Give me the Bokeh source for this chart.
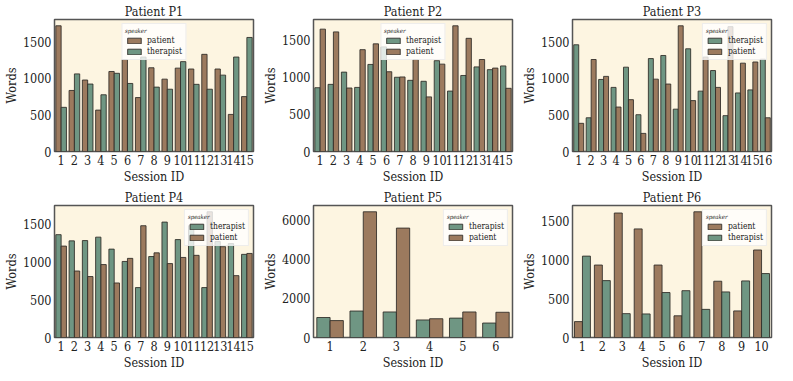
from bokeh.plotting import figure
from bokeh.models import FactorRange, Range1d, FixedTicker
from bokeh.transform import dodge
from bokeh.layouts import gridplot
from bokeh.embed import file_html
from bokeh.resources import INLINE

# ---------------- data ----------------
p1_sessions = ["1", "2", "3", "4", "5", "6", "7", "8", "9", "10", "11", "12", "13", "14", "15"]
p1_patient = [1722, 836, 979, 567, 1096, 1260, 739, 1147, 991, 1142, 1130, 1331, 1130, 508, 752]
p1_therapist = [605, 1063, 924, 777, 1071, 932, 1294, 882, 853, 1231, 920, 853, 1046, 1294, 1562]
p1_order = ["patient", "therapist"]

p2_sessions = ["1", "2", "3", "4", "5", "6", "7", "8", "9", "10", "11", "12", "13", "14", "15"]
p2_patient = [1640, 1603, 851, 1365, 1443, 1069, 999, 1233, 732, 1171, 1685, 1517, 1233, 1118, 847]
p2_therapist = [855, 900, 1064, 859, 1167, 1402, 995, 954, 941, 1217, 810, 1019, 1134, 1097, 1147]
p2_order = ["therapist", "patient"]

p3_sessions = ["1", "2", "3", "4", "5", "6", "7", "8", "9", "10", "11", "12", "13", "14", "15", "16"]
p3_patient = [386, 1260, 1029, 609, 710, 248, 991, 924, 1722, 697, 1294, 878, 1710, 1210, 1226, 462]
p3_therapist = [1462, 462, 987, 878, 1155, 504, 1273, 1315, 580, 1407, 827, 1109, 491, 802, 844, 1264]
p3_order = ["therapist", "patient"]

p4_sessions = ["1", "2", "3", "4", "5", "6", "7", "8", "9", "10", "11", "12", "13", "14", "15"]
p4_patient = [1207, 878, 805, 963, 720, 1045, 1476, 1118, 976, 1057, 1085, 1660, 1199, 817, 1110]
p4_therapist = [1358, 1276, 1280, 1325, 1167, 1004, 659, 1069, 1524, 1293, 1476, 659, 1268, 1240, 1098]
p4_order = ["therapist", "patient"]

p5_sessions = ["1", "2", "3", "4", "5", "6"]
p5_patient = [861, 6400, 5570, 955, 1300, 1284]
p5_therapist = [1018, 1347, 1300, 893, 987, 736]
p5_order = ["therapist", "patient"]

p6_sessions = ["1", "2", "3", "4", "5", "6", "7", "8", "9", "10"]
p6_patient = [205, 935, 1606, 1401, 935, 280, 1622, 726, 343, 1129]
p6_therapist = [1050, 734, 308, 304, 580, 604, 363, 588, 730, 825]
p6_order = ["patient", "therapist"]

words_ticks = [0, 500, 1000, 1500]
p5_ticks = [0, 2000, 4000, 6000]

# ---------------- style ----------------
FONT = "DejaVu Serif Condensed"
COLORS = {"patient": "#9c7a5e", "therapist": "#6f9683"}
BG = "#fdf5e1"
TXT = "#222222"


def panel(title, sessions, patient, therapist, order, ticks, legend_loc):
    ymax = max(max(patient), max(therapist)) * 1.05
    p = figure(width=259, height=186, x_range=FactorRange(*sessions),
               y_range=Range1d(0, ymax), output_backend="svg",
               toolbar_location=None, title=title,
               min_border_left=4, min_border_right=6,
               min_border_top=2, min_border_bottom=0)
    data = {"session": sessions, "patient": patient, "therapist": therapist}
    offsets = [-0.2, 0.2]
    for hue, off in zip(order, offsets):
        p.vbar(x=dodge("session", off, range=p.x_range), top=hue, width=0.4,
               source=data, fill_color=COLORS[hue], fill_alpha=1.0,
               line_color="#2e2a26", line_alpha=0.85, line_width=1,
               legend_label=hue)
    p.background_fill_color = BG
    p.border_fill_color = "white"
    p.outline_line_color = "#555555"
    p.outline_line_width = 1.5
    p.grid.grid_line_color = None

    p.title.align = "center"
    p.title.text_font = FONT
    p.title.text_font_style = "normal"
    p.title.text_font_size = "12.5px"
    p.title.text_color = TXT
    p.title.offset = 0
    p.title.standoff = 2

    for ax in (p.xaxis[0], p.yaxis[0]):
        ax.major_label_text_font = FONT
        ax.major_label_text_font_size = "12.5px"
        ax.major_label_text_color = TXT
        ax.axis_label_text_font = FONT
        ax.axis_label_text_font_size = "12.5px"
        ax.axis_label_text_font_style = "normal"
        ax.axis_label_text_color = TXT
        ax.axis_line_color = None
        ax.major_tick_line_color = None
        ax.minor_tick_line_color = None
        ax.major_tick_out = 0
        ax.major_tick_in = 0
        ax.major_label_standoff = 3
        ax.axis_label_standoff = 1
    p.xaxis.axis_label = "Session ID"
    p.yaxis.axis_label = "Words"
    p.yaxis.ticker = FixedTicker(ticks=ticks)

    lg = p.legend[0]
    lg.location = legend_loc
    lg.title = "speaker"
    lg.title_text_font = FONT
    lg.title_text_font_size = "6px"
    lg.title_text_color = TXT
    lg.title_standoff = 1
    lg.label_text_font = FONT
    lg.label_text_font_size = "8.5px"
    lg.label_text_color = TXT
    lg.label_height = 9
    lg.label_standoff = 5
    lg.glyph_width = 17
    lg.glyph_height = 7
    lg.spacing = 1
    lg.padding = 3
    lg.margin = 4
    lg.background_fill_color = "white"
    lg.background_fill_alpha = 0.8
    lg.border_line_color = "#dddddd"
    lg.border_line_width = 1
    return p


p1 = panel("Patient P1", p1_sessions, p1_patient, p1_therapist, p1_order, words_ticks, "top_center")
p2 = panel("Patient P2", p2_sessions, p2_patient, p2_therapist, p2_order, words_ticks, "top_center")
p3 = panel("Patient P3", p3_sessions, p3_patient, p3_therapist, p3_order, words_ticks, "top_right")
p4 = panel("Patient P4", p4_sessions, p4_patient, p4_therapist, p4_order, words_ticks, "top_right")
p5 = panel("Patient P5", p5_sessions, p5_patient, p5_therapist, p5_order, p5_ticks, "top_right")
p6 = panel("Patient P6", p6_sessions, p6_patient, p6_therapist, p6_order, words_ticks, "top_right")

grid = gridplot([[p1, p2, p3], [p4, p5, p6]], toolbar_location=None)

open("out.html", "w").write(file_html(grid, INLINE))
